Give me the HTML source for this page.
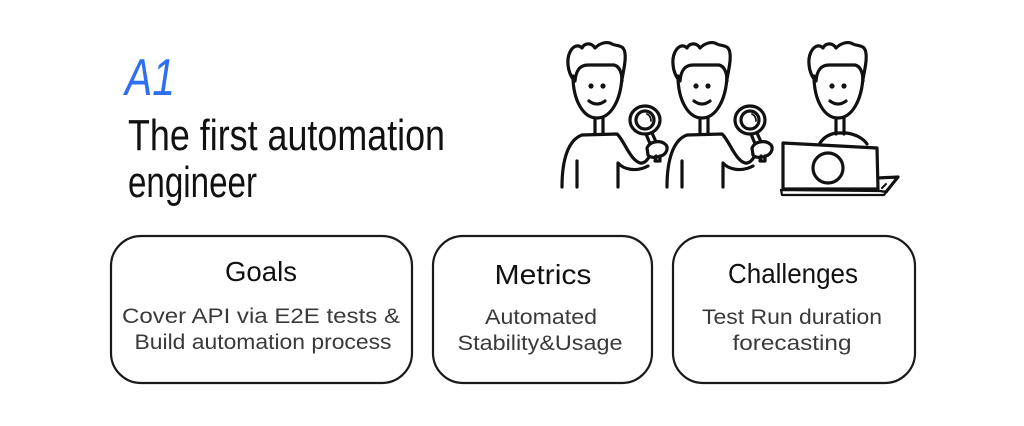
<!DOCTYPE html>
<html>
<head>
<meta charset="utf-8">
<style>
  html, body { margin:0; padding:0; background:#fff; }
  body { width:1024px; height:426px; overflow:hidden; }
  svg { display:block; }
  text { font-family: "Liberation Sans", "DejaVu Sans", sans-serif; }
</style>
</head>
<body>
<svg width="1024" height="426" viewBox="0 0 1024 426" xmlns="http://www.w3.org/2000/svg">
  <rect width="1024" height="426" fill="#fff"/>

  <!-- Title -->
  <text x="125" y="95" font-size="52" fill="#2d6ff0" font-style="italic" textLength="50" lengthAdjust="spacingAndGlyphs">A1</text>
  <text x="128" y="150" font-size="44" fill="#111" textLength="317" lengthAdjust="spacingAndGlyphs">The first automation</text>
  <text x="128" y="197" font-size="44" fill="#111" textLength="129" lengthAdjust="spacingAndGlyphs">engineer</text>

  <!-- Boxes -->
  <g fill="none" stroke="#1a1a1a" stroke-width="2.2">
    <rect x="111" y="236" width="301" height="147" rx="30" ry="30"/>
    <rect x="433" y="236" width="219" height="147" rx="30" ry="30"/>
    <rect x="673" y="236" width="242" height="147" rx="30" ry="30"/>
  </g>

  <g text-anchor="middle">
    <text x="261" y="281" font-size="28" fill="#111" textLength="72" lengthAdjust="spacingAndGlyphs">Goals</text>
    <text x="261" y="323" font-size="21" fill="#3a3a3a" textLength="278" lengthAdjust="spacingAndGlyphs">Cover API via E2E tests &amp;</text>
    <text x="263" y="349" font-size="21" fill="#3a3a3a" textLength="257" lengthAdjust="spacingAndGlyphs">Build automation process</text>

    <text x="543" y="284" font-size="28" fill="#111" textLength="97" lengthAdjust="spacingAndGlyphs">Metrics</text>
    <text x="541" y="324" font-size="21" fill="#3a3a3a" textLength="112" lengthAdjust="spacingAndGlyphs">Automated</text>
    <text x="540" y="350" font-size="21" fill="#3a3a3a" textLength="165" lengthAdjust="spacingAndGlyphs">Stability&amp;Usage</text>

    <text x="793" y="283" font-size="28" fill="#111" textLength="130" lengthAdjust="spacingAndGlyphs">Challenges</text>
    <text x="792" y="324" font-size="21" fill="#3a3a3a" textLength="180" lengthAdjust="spacingAndGlyphs">Test Run duration</text>
    <text x="792" y="350" font-size="21" fill="#3a3a3a" textLength="119" lengthAdjust="spacingAndGlyphs">forecasting</text>
  </g>

  <!-- Figure definitions -->
  <defs>
    <g id="head" fill="none" stroke="#111" stroke-width="3.2" stroke-linecap="round" stroke-linejoin="round">
      <!-- face -->
      <path d="M573,76 C573,100 583,118 597,118 C611,118 621,100 622,76"/>
      <!-- hair outline -->
      <path d="M573,79 C568,72 566,60 570,52 C573,46 578,44 582,48 C585,42 592,43 595,48 C600,43 607,41 612,44 C616,46 620,45 623,48 C627,53 625,64 622,79"/>
      <!-- hairline -->
      <path d="M575,81 C576,70 580,65 588,65 L614,65 C619,66 622,72 622,81"/>
      <!-- smile -->
      <path d="M589,101 Q597,107 605,101"/>
      <!-- neck -->
      <path d="M595,118 L595,134 M603,118 L603,134"/>
      <circle cx="591" cy="86" r="2.6" fill="#111" stroke="none"/>
      <circle cx="603" cy="86" r="2.6" fill="#111" stroke="none"/>
    </g>
    <g id="fig">
      <use href="#head"/>
      <g fill="none" stroke="#111" stroke-width="3.2" stroke-linecap="round" stroke-linejoin="round">
        <!-- body -->
        <path d="M562,187 C562,160 568,140 582,135 L617,134 C624,140 630,160 640,163 C646,164 650,156 652,151"/>
        <path d="M618,187 L618,163 C624,170 637,172 648,166"/>
        <path d="M577,187 L577,161"/>
        <!-- magnifier handle -->
        <path d="M646,134 L651,146 M652,133 L657,144"/>
        <!-- hand -->
        <path d="M647,148 C650,141 660,140 665,144 C669,147 667,154 661,156 C656,158 650,158 648,155 Z" fill="#fff"/>
        <path d="M656,156 L655,161 L660,161 L660,156"/>
        <!-- magnifier -->
        <ellipse cx="645" cy="120" rx="15" ry="14" fill="#fff"/>
        <circle cx="645" cy="120" r="9"/>
        <path d="M647,114 Q651,116 651,121" stroke-width="1.8"/>
      </g>
    </g>
  </defs>

  <use href="#fig"/>
  <use href="#fig" transform="translate(105,0)"/>

  <!-- Figure 3 with laptop -->
  <use href="#head" transform="translate(241,0)"/>
  <g fill="none" stroke="#111" stroke-width="3.2" stroke-linecap="round" stroke-linejoin="round">
    <path d="M820,143 C824,137 830,134 836,133 L846,133 C855,134 863,138 867,144"/>
    <!-- keyboard base -->
    <path d="M877,178 L898,177 L886,192 L877,192" fill="#fff"/>
    <path d="M882,188 L886,184" stroke-width="2"/>
    <!-- screen -->
    <path d="M783,143 L877,148 L878,189 L783,189 Z" fill="#fff"/>
    <path d="M781,190 L880,191 L886,192 L884,195 L782,195 Z" fill="#fff" stroke-width="2.2"/>
    <circle cx="828" cy="168" r="15"/>
  </g>
</svg>
</body>
</html>
